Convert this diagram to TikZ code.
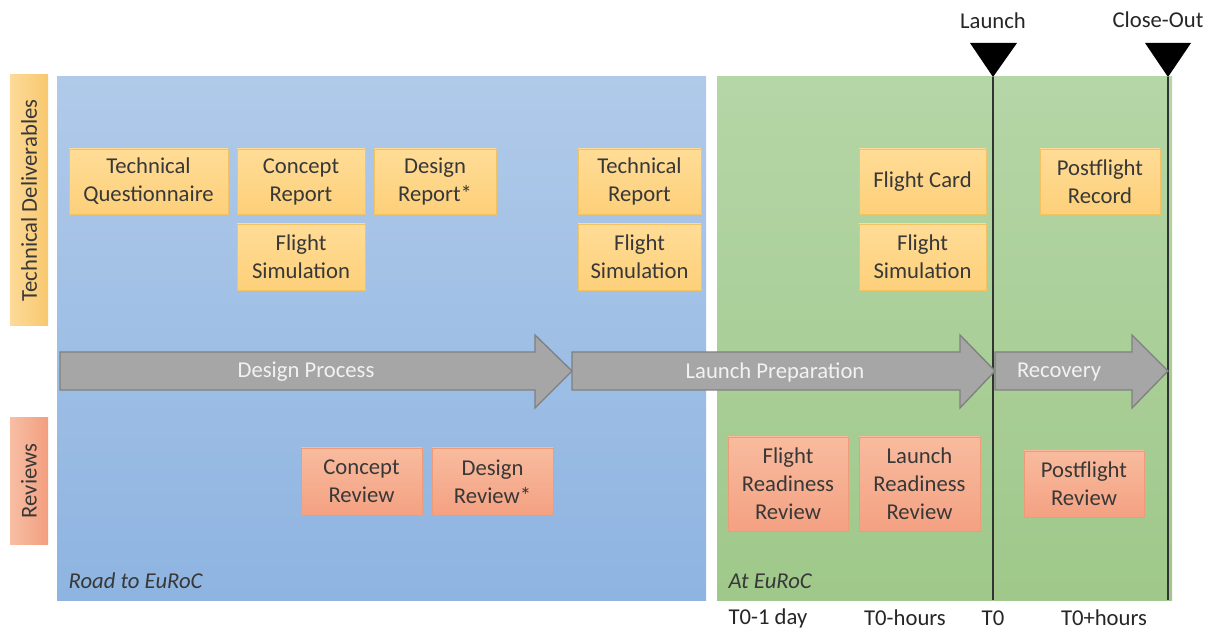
\documentclass[tikz,border=0pt]{standalone}
\usepackage{fontspec}
\setmainfont{Carlito}
\begin{document}
\begin{tikzpicture}[x=0.75pt,y=-0.75pt,
  font=\fontsize{17}{21}\selectfont,
  txt/.style={text=black!78},
  arr/.style={fill=black!35, draw=black!50, line width=1pt},
  arrtxt/.style={text=black!5},
  milestone/.style={fill=black},
  tline/.style={draw=black!80, line width=1.3pt}
]
\definecolor{blueT}{HTML}{B0CAE9}
\definecolor{blueB}{HTML}{8EB4E1}
\definecolor{greenT}{HTML}{B5D6A7}
\definecolor{greenB}{HTML}{9FC88A}
\definecolor{yelL}{HTML}{FDDA98}
\definecolor{yelR}{HTML}{F8C86E}
\definecolor{salL}{HTML}{F8BEA4}
\definecolor{salR}{HTML}{F29E7E}
\definecolor{yboxT}{HTML}{FFDC96}
\definecolor{yboxB}{HTML}{FDD07A}
\definecolor{yboxD}{HTML}{F3C262}
\definecolor{sboxT}{HTML}{F8BB9E}
\definecolor{sboxB}{HTML}{F4A182}
\definecolor{sboxD}{HTML}{EE9B78}
\tikzset{
  yel/.style={draw=yboxD, line width=0.7pt, top color=yboxT, bottom color=yboxB, align=center, txt, inner sep=0pt},
  sal/.style={draw=sboxD, line width=0.7pt, top color=sboxT, bottom color=sboxB, align=center, txt, inner sep=0pt}
}
\useasboundingbox (0,0) rectangle (1213,630);
\fill[white] (0,0) rectangle (1213,630);

% side labels
\node[left color=yelL, right color=yelR, minimum width=38*0.75pt, minimum height=251*0.75pt, inner sep=0pt] (techlab) at (29,200.5) {};
\node[rotate=90, txt] at (techlab.center) {Technical Deliverables};
\node[left color=salL, right color=salR, minimum width=38*0.75pt, minimum height=126*0.75pt, inner sep=0pt] (revlab) at (29,481) {};
\node[rotate=90, txt] at (revlab.center) {Reviews};

% panels
\shade[top color=blueT, bottom color=blueB] (57,77) rectangle (706,600);
\shade[top color=greenT, bottom color=greenB] (717,77) rectangle (1172,600);
\node[anchor=west, font=\fontsize{17}{21}\selectfont\itshape, txt] (road) at (64,581) {Road to EuRoC};
\node[anchor=west, font=\fontsize{17}{21}\selectfont\itshape, txt] (ateuroc) at (724,581) {At EuRoC};

% timeline marks
\coordinate (l1) at (993,77);
\coordinate (l1b) at (993,600);
\coordinate (c1) at (1168,77);
\coordinate (c1b) at (1168,600);
\draw[tline] (l1) -- (l1b);
\draw[tline] (c1) -- (c1b);
\fill[milestone] (970,43) -- (1017,43) -- (l1) -- cycle;
\fill[milestone] (1145,43) -- (1191,43) -- (c1) -- cycle;
\node[text=black!85] (launch) at (993,21) {Launch};
\node[text=black!85] (closeout) at (1158,20) {Close-Out};

% arrows
\draw[arr] (60,352) -- (535,352) -- (535,335) -- (572,371) -- (535,408) -- (535,390) -- (60,390) -- cycle;
\draw[arr] (572,352) -- (960,352) -- (960,335) -- (995,371) -- (960,408) -- (960,390) -- (572,390) -- cycle;
\draw[arr] (995,352) -- (1132,352) -- (1132,335) -- (1168,371) -- (1132,408) -- (1132,390) -- (995,390) -- cycle;
\node[arrtxt] (dp) at (306,372) {Design Process};
\node[arrtxt] (lp) at (775,372) {Launch Preparation};
\node[arrtxt] (rc) at (1059,372) {Recovery};

% deliverables
\node[yel, minimum width=159*0.75pt, minimum height=65*0.75pt] (tq) at (148.5,181.5) {Technical\\Questionnaire};
\node[yel, minimum width=128*0.75pt, minimum height=65*0.75pt] (cr) at (301,181.5) {Concept\\Report};
\node[yel, minimum width=122*0.75pt, minimum height=65*0.75pt] (dr) at (435,181.5) {Design\\Report*};
\node[yel, minimum width=128*0.75pt, minimum height=66*0.75pt] (fs1) at (301,257) {Flight\\Simulation};
\node[yel, minimum width=123*0.75pt, minimum height=65*0.75pt] (tr) at (639.5,181.5) {Technical\\Report};
\node[yel, minimum width=123*0.75pt, minimum height=66*0.75pt] (fs2) at (639.5,257) {Flight\\Simulation};
\node[yel, minimum width=127*0.75pt, minimum height=65*0.75pt] (fc) at (922.5,181.5) {Flight Card};
\node[yel, minimum width=127*0.75pt, minimum height=66*0.75pt] (fs3) at (922.5,257) {Flight\\Simulation};
\node[yel, minimum width=120*0.75pt, minimum height=65*0.75pt] (pr) at (1100,181.5) {Postflight\\Record};

% reviews
\node[sal, minimum width=121*0.75pt, minimum height=67*0.75pt] (crv) at (361.5,481.5) {Concept\\Review};
\node[sal, minimum width=121*0.75pt, minimum height=67*0.75pt] (drv) at (492.5,481.5) {Design\\Review*};
\node[sal, minimum width=120*0.75pt, minimum height=94*0.75pt] (frr) at (788,484) {Flight\\Readiness\\Review};
\node[sal, minimum width=121*0.75pt, minimum height=94*0.75pt] (lrr) at (919.5,484) {Launch\\Readiness\\Review};
\node[sal, minimum width=120*0.75pt, minimum height=66*0.75pt] (pfr) at (1084,484) {Postflight\\Review};

% time labels
\node[text=black!85] (t1) at (768,618) {T0-1 day};
\node[text=black!85] (t2) at (905,618) {T0-hours};
\node[text=black!85] (t3) at (993,618) {T0};
\node[text=black!85] (t4) at (1104,618) {T0+hours};
\end{tikzpicture}
\end{document}
